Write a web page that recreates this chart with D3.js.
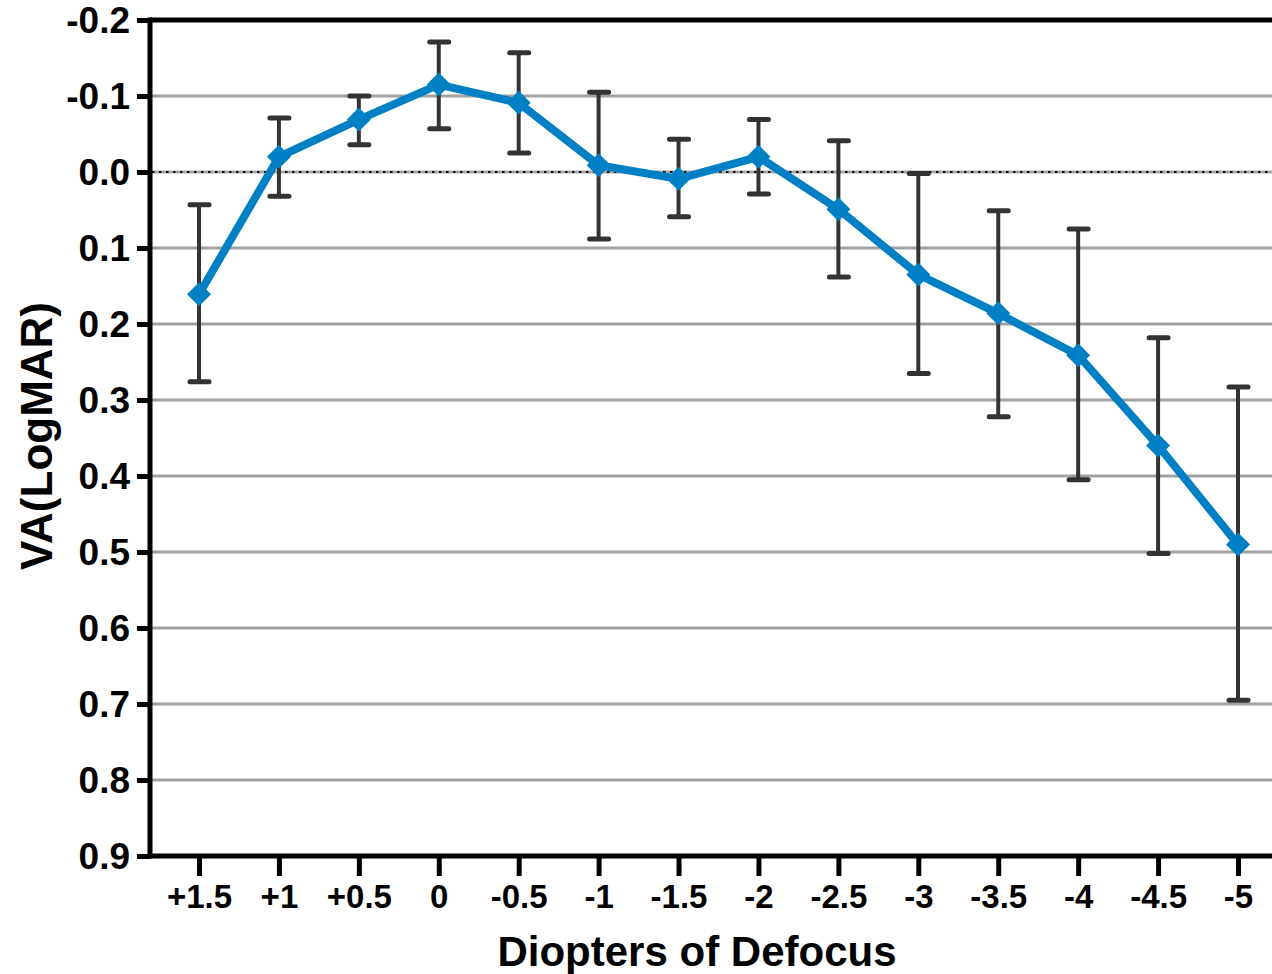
<!DOCTYPE html>
<html>
<head>
<meta charset="utf-8">
<script src="https://cdn.jsdelivr.net/npm/d3@7"></script>
<style>
  html, body { margin: 0; padding: 0; background: #fff; }
  svg { display: block; }
  text { font-family: "Liberation Sans", Arial, Helvetica, sans-serif; font-weight: bold; fill: #000; }
</style>
</head>
<body>
<svg id="chart" width="1272" height="974"></svg>
<script>
// ---- Data ----
const categories = ["+1.5", "+1", "+0.5", "0", "-0.5", "-1", "-1.5", "-2", "-2.5", "-3", "-3.5", "-4", "-4.5", "-5"];
const meanVA     = [0.161, -0.020, -0.069, -0.115, -0.091, -0.009, 0.009, -0.020, 0.049, 0.135, 0.186, 0.241, 0.360, 0.490];
const errUpper   = [0.043, -0.071, -0.100, -0.171, -0.157, -0.105, -0.043, -0.069, -0.041, 0.002, 0.051, 0.075, 0.218, 0.283];
const errLower   = [0.276, 0.032, -0.036, -0.057, -0.025, 0.088, 0.059, 0.029, 0.138, 0.265, 0.322, 0.405, 0.502, 0.695];
const yTicks      = [-0.2, -0.1, 0.0, 0.1, 0.2, 0.3, 0.4, 0.5, 0.6, 0.7, 0.8, 0.9];
const yTickLabels = ["-0.2", "-0.1", "0.0", "0.1", "0.2", "0.3", "0.4", "0.5", "0.6", "0.7", "0.8", "0.9"];
const gridValues  = [-0.1, 0.1, 0.2, 0.3, 0.4, 0.5, 0.6, 0.7, 0.8];
const xTitle = "Diopters of Defocus";
const yTitle = "VA(LogMAR)";

(function () {
// ---- Layout ----
const svg = d3.select("#chart");
const L = 150, R = 1272, T = 20, B = 856;

const x = d3.scalePoint().domain(categories).range([199, 1238]);
const y = d3.scaleLinear().domain([-0.2, 0.9]).range([T, B]);

const data = categories.map((c, i) => ({ c, v: meanVA[i], hi: errUpper[i], lo: errLower[i] }));

// gridlines
svg.append("g").selectAll("line").data(gridValues).join("line")
  .attr("x1", L).attr("x2", R)
  .attr("y1", d => y(d)).attr("y2", d => y(d))
  .attr("stroke", "#a0a0a4").attr("stroke-width", 3);

// zero line: gray with black dots
svg.append("line").attr("x1", L).attr("x2", R)
  .attr("y1", y(0)).attr("y2", y(0))
  .attr("stroke", "#a8a8ac").attr("stroke-width", 3);
svg.append("line").attr("x1", L + 2).attr("x2", R)
  .attr("y1", y(0)).attr("y2", y(0))
  .attr("stroke", "#111").attr("stroke-width", 2.2).attr("stroke-dasharray", "2.5,4.5");

// top border
svg.append("line").attr("x1", L).attr("x2", R)
  .attr("y1", y(-0.2)).attr("y2", y(-0.2))
  .attr("stroke", "#000").attr("stroke-width", 5);

// Y axis
const yAxis = d3.axisLeft(y).tickValues(yTicks).tickSize(13).tickPadding(7)
  .tickFormat((d, i) => yTickLabels[i]);
const gy = svg.append("g").attr("transform", `translate(${L},0)`).call(yAxis);
gy.select(".domain").attr("stroke", "#000").attr("stroke-width", 5)
  .attr("d", `M0,${T - 2.5}V${B + 2.5}`);
gy.selectAll(".tick line").attr("stroke", "#000").attr("stroke-width", 5);
gy.selectAll(".tick text").style("font-size", "37px").attr("dy", "0.35em")
  .attr("font-family", "Liberation Sans, Arial, sans-serif").attr("font-weight", "bold").attr("fill", "#000");

// X axis
const xAxis = d3.axisBottom(x).tickSize(20).tickPadding(9);
const gx = svg.append("g").attr("transform", `translate(0,${B})`).call(xAxis);
gx.select(".domain").attr("stroke", "#000").attr("stroke-width", 5)
  .attr("d", `M${L - 2.5},0H${R}`);
gx.selectAll(".tick line").attr("stroke", "#000").attr("stroke-width", 5);
gx.selectAll(".tick text").style("font-size", "33px").attr("dy", "0.71em")
  .attr("font-family", "Liberation Sans, Arial, sans-serif").attr("font-weight", "bold").attr("fill", "#000");

// error bars
const eb = svg.append("g").attr("stroke", "#333").attr("fill", "none");
eb.selectAll("line.v").data(data).join("line").attr("class", "v")
  .attr("x1", d => x(d.c)).attr("x2", d => x(d.c))
  .attr("y1", d => y(d.hi)).attr("y2", d => y(d.lo))
  .attr("stroke-width", 4);
eb.selectAll("line.ct").data(data).join("line").attr("class", "ct")
  .attr("x1", d => x(d.c) - 9).attr("x2", d => x(d.c) + 10)
  .attr("y1", d => y(d.hi)).attr("y2", d => y(d.hi))
  .attr("stroke-width", 5).attr("stroke-linecap", "round");
eb.selectAll("line.cb").data(data).join("line").attr("class", "cb")
  .attr("x1", d => x(d.c) - 9).attr("x2", d => x(d.c) + 10)
  .attr("y1", d => y(d.lo)).attr("y2", d => y(d.lo))
  .attr("stroke-width", 5).attr("stroke-linecap", "round");

// line
const line = d3.line().x(d => x(d.c)).y(d => y(d.v));
svg.append("path").datum(data).attr("d", line)
  .attr("fill", "none").attr("stroke", "#0080c4").attr("stroke-width", 8)
  .attr("stroke-linejoin", "miter");

// diamonds
svg.append("g").selectAll("path").data(data).join("path")
  .attr("transform", d => `translate(${x(d.c)},${y(d.v)})`)
  .attr("d", "M0,-12L12,0L0,12L-12,0Z")
  .attr("fill", "#0080c4");

// titles
svg.append("text").attr("x", 697).attr("y", 966).attr("text-anchor", "middle")
  .style("font-size", "42px").text(xTitle);
svg.append("text").attr("transform", "translate(52,436) rotate(-90)").attr("text-anchor", "middle")
  .style("font-size", "44px").text(yTitle);
})();
</script>
</body>
</html>
